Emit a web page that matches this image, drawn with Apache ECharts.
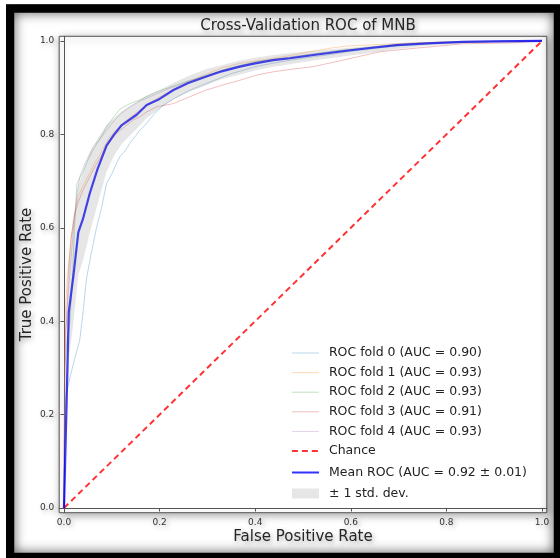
<!DOCTYPE html>
<html><head><meta charset="utf-8">
<script src="https://cdn.jsdelivr.net/npm/echarts@6/dist/echarts.min.js"></script>
<style>html,body{margin:0;padding:0;background:#fff}#c{width:560px;height:558px}</style>
</head><body><div id="c"></div>
<script>
const titleText = 'Cross-Validation ROC of MNB';
const xName = 'False Positive Rate';
const yName = 'True Positive Rate';
const tickValues = [0, 0.2, 0.4, 0.6, 0.8, 1.0];
const foldNames = ['ROC fold 0 (AUC = 0.90)','ROC fold 1 (AUC = 0.93)','ROC fold 2 (AUC = 0.93)','ROC fold 3 (AUC = 0.91)','ROC fold 4 (AUC = 0.93)'];
const chanceName = 'Chance';
const meanName = 'Mean ROC (AUC = 0.92 \u00b1 0.01)';
const bandName = '\u00b1 1 std. dev.';

const fold0 = [[0,0],[0.001,0.15],[0.004,0.24],[0.0126,0.28],[0.02,0.31],[0.033,0.36],[0.04,0.42],[0.047,0.49],[0.056,0.54],[0.068,0.60],[0.078,0.64],[0.089,0.695],[0.10,0.715],[0.11,0.738],[0.117,0.752],[0.128,0.765],[0.138,0.781],[0.159,0.809],[0.173,0.824],[0.19,0.845],[0.207,0.862],[0.229,0.876],[0.26,0.893],[0.3,0.91],[0.35,0.93],[0.4,0.945],[0.45,0.955],[0.5,0.963],[0.55,0.97],[0.6,0.978],[0.7,0.99],[0.8,0.996],[0.9,0.999],[1,1]];
const fold1 = [[0,0],[0.001,0.3],[0.003,0.42],[0.006,0.48],[0.012,0.55],[0.02,0.62],[0.03,0.667],[0.04,0.69],[0.054,0.717],[0.065,0.74],[0.075,0.756],[0.085,0.775],[0.096,0.795],[0.11,0.81],[0.124,0.824],[0.14,0.838],[0.159,0.852],[0.18,0.868],[0.2,0.88],[0.23,0.897],[0.26,0.912],[0.3,0.93],[0.33,0.942],[0.368,0.952],[0.4,0.957],[0.438,0.963],[0.48,0.97],[0.52,0.978],[0.56,0.985],[0.591,0.989],[0.65,0.992],[0.73,0.996],[0.8,0.998],[0.9,0.999],[1,1]];
const fold2 = [[0,0],[0.002,0.3],[0.006,0.36],[0.0126,0.40],[0.018,0.5],[0.022,0.6],[0.027,0.695],[0.04,0.72],[0.05,0.745],[0.061,0.767],[0.075,0.79],[0.089,0.816],[0.1,0.832],[0.117,0.854],[0.138,0.866],[0.159,0.874],[0.175,0.882],[0.194,0.891],[0.23,0.904],[0.264,0.916],[0.3,0.927],[0.333,0.938],[0.37,0.948],[0.403,0.956],[0.44,0.961],[0.473,0.965],[0.52,0.972],[0.58,0.98],[0.65,0.988],[0.72,0.994],[0.8,0.997],[0.9,0.999],[1,1]];
const fold3 = [[0,0],[0.001,0.25],[0.003,0.38],[0.0056,0.40],[0.009,0.50],[0.015,0.58],[0.023,0.63],[0.03,0.655],[0.04,0.681],[0.052,0.705],[0.065,0.731],[0.077,0.752],[0.089,0.774],[0.1,0.79],[0.11,0.802],[0.128,0.817],[0.145,0.831],[0.159,0.838],[0.173,0.848],[0.194,0.859],[0.229,0.866],[0.264,0.881],[0.298,0.895],[0.333,0.906],[0.368,0.916],[0.403,0.927],[0.438,0.934],[0.473,0.939],[0.521,0.945],[0.584,0.959],[0.661,0.977],[0.73,0.984],[0.835,0.994],[0.94,0.996],[1,1]];
const fold4 = [[0,0],[0.002,0.32],[0.006,0.42],[0.012,0.5],[0.02,0.6],[0.027,0.67],[0.033,0.71],[0.045,0.74],[0.061,0.774],[0.075,0.79],[0.089,0.808],[0.105,0.83],[0.12,0.845],[0.14,0.86],[0.16,0.872],[0.19,0.885],[0.22,0.898],[0.26,0.913],[0.3,0.926],[0.34,0.94],[0.38,0.95],[0.42,0.958],[0.47,0.965],[0.52,0.972],[0.6,0.982],[0.68,0.99],[0.76,0.995],[0.85,0.998],[1,1]];
const chance = [[0,0],[1,1]];

const meanFpr   = [0, 0.0101, 0.02, 0.03, 0.04, 0.054, 0.07, 0.089, 0.105, 0.121, 0.152, 0.173, 0.2, 0.229, 0.26, 0.298, 0.33, 0.368, 0.4, 0.438, 0.473, 0.522, 0.591, 0.65, 0.696, 0.76, 0.835, 0.9, 1];
const meanTpr   = [0, 0.42, 0.50, 0.59, 0.62, 0.674, 0.725, 0.776, 0.80, 0.82, 0.842, 0.863, 0.876, 0.895, 0.91, 0.924, 0.935, 0.945, 0.952, 0.959, 0.963, 0.970, 0.979, 0.986, 0.991, 0.995, 0.998, 0.999, 1];
const upperTpr  = [0, 0.52, 0.62, 0.69, 0.72, 0.76, 0.79, 0.82, 0.835, 0.85, 0.87, 0.883, 0.895, 0.91, 0.925, 0.94, 0.948, 0.958, 0.964, 0.97, 0.974, 0.979, 0.985, 0.99, 0.995, 0.998, 1.0, 1.0, 1];
const lowerTpr  = [0, 0.32, 0.40, 0.50, 0.53, 0.59, 0.65, 0.72, 0.755, 0.78, 0.812, 0.835, 0.855, 0.875, 0.89, 0.905, 0.918, 0.928, 0.937, 0.945, 0.95, 0.958, 0.968, 0.976, 0.983, 0.99, 0.995, 0.997, 1];

const foldColors = ['rgba(31,119,180,0.3)','rgba(255,127,14,0.3)','rgba(44,160,44,0.3)','rgba(214,39,40,0.3)','rgba(148,103,189,0.3)'];
const folds = [fold0, fold1, fold2, fold3, fold4];
const FONT = 'DejaVu Sans';
const txtShadow = {textShadowColor:'rgba(0,0,0,0.35)', textShadowBlur:5, textShadowOffsetX:2, textShadowOffsetY:2};

const chart = echarts.init(document.getElementById('c'), null, {renderer:'canvas'});
const series = [];
folds.forEach((f, i) => {
  series.push({name: foldNames[i], type:'line', data: f, showSymbol:false, symbol:'none',
    lineStyle:{color: foldColors[i], width:1}, itemStyle:{color: foldColors[i]}, z:2, animation:false});
});
series.push({name: chanceName, type:'line', data: chance, symbol:'none',
  lineStyle:{color:'rgba(255,0,0,0.8)', width:2, type:[6,4]}, itemStyle:{color:'rgba(255,0,0,0.8)'}, z:3, animation:false});
series.push({name: meanName, type:'line', data: meanFpr.map((x,i)=>[x, meanTpr[i]]), symbol:'none',
  lineStyle:{color:'rgba(0,0,255,0.8)', width:2.2}, itemStyle:{color:'rgba(0,0,255,0.8)'}, z:4, animation:false});
series.push({name: bandName, type:'custom', coordinateSystem:'cartesian2d', data:[[0,0]], z:5, animation:false,
  itemStyle:{color:'rgba(128,128,128,0.2)'},
  renderItem: function(params, api){
    const pts = [];
    for (let i=0;i<meanFpr.length;i++) pts.push(api.coord([meanFpr[i], upperTpr[i]]));
    for (let i=meanFpr.length-1;i>=0;i--) pts.push(api.coord([meanFpr[i], lowerTpr[i]]));
    return {type:'polygon', shape:{points: pts}, style:{fill:'rgba(128,128,128,0.2)', stroke:null}};
  }});

const axisCommon = {
  type:'value', min:-0.01, max:1.01,
  axisLine:{show:true, lineStyle:{color:'#555', width:1}},
  axisTick:{show:true, length:3.5, lineStyle:{color:'#555'}, customValues: tickValues},
  axisLabel:Object.assign({fontSize:9, fontFamily:FONT, color:'#333', customValues: tickValues, formatter: v => v.toFixed(1)}, txtShadow),
  splitLine:{show:false},
  nameLocation:'middle',
  nameMoveOverlap:false,
  nameTextStyle:Object.assign({fontSize:15, fontFamily:FONT, color:'#262626'}, txtShadow)
};

const legendText = {fontSize:12.5, fontFamily:FONT, color:'#222', padding:[0,0,0,5]};
const lineItem = (n, w) => ({name:n, itemStyle:{opacity:0}, lineStyle:{width:w}});

chart.setOption({
  animation:false,
  backgroundColor:'#fff',
  title:{text:titleText, left:303, top:14, textAlign:'center',
    textStyle:Object.assign({fontSize:15, fontWeight:'normal', fontFamily:FONT, color:'#262626'}, txtShadow)},
  grid:{left:59.2, right:13.2, top:36.3, bottom:45.3, show:true, backgroundColor:'#fff', borderColor:'#555', borderWidth:1,
    shadowBlur:8, shadowColor:'rgba(0,0,0,0.35)', shadowOffsetX:2, shadowOffsetY:2},
  xAxis:Object.assign({}, axisCommon, {name:xName, nameGap:17, axisLabel:Object.assign({}, axisCommon.axisLabel, {margin:5})}),
  yAxis:Object.assign({}, axisCommon, {name:yName, nameGap:25, axisLabel:Object.assign({}, axisCommon.axisLabel, {margin:5})}),
  legend:[{
    orient:'vertical', left:286, top:341, itemWidth:27, itemHeight:14, itemGap:5.6,
    data: foldNames.map(n => lineItem(n, 1)).concat([lineItem(chanceName, 1.8)]),
    textStyle:Object.assign({lineHeight:14}, legendText),
    selectedMode:false
  },{
    orient:'vertical', left:286, top:461, itemWidth:27, itemHeight:10, itemGap:8,
    data: [lineItem(meanName, 2), {name: bandName, icon:'rect'}],
    textStyle:Object.assign({lineHeight:10}, legendText),
    selectedMode:false
  }],
  graphic:[
    {type:'rect', z:-10, silent:true, shape:{x:287, y:341, width:254, height:165, r:3},
      style:{fill:'rgba(255,255,255,0.8)', stroke:'#d0d0d0', lineWidth:1}},
    {type:'rect', z:100, silent:true, shape:{x:10, y:8.5, width:548, height:548.5},
      style:{fill:null, stroke:'#000', lineWidth:8.5, shadowBlur:12, shadowColor:'rgba(0,0,0,0.7)'}},
    {type:'rect', z:101, silent:true, shape:{x:0, y:0, width:6, height:558}, style:{fill:'#fff'}},
    {type:'rect', z:101, silent:true, shape:{x:0, y:0, width:560, height:4}, style:{fill:'#fff'}}
  ],
  series: series
});
</script></body></html>
